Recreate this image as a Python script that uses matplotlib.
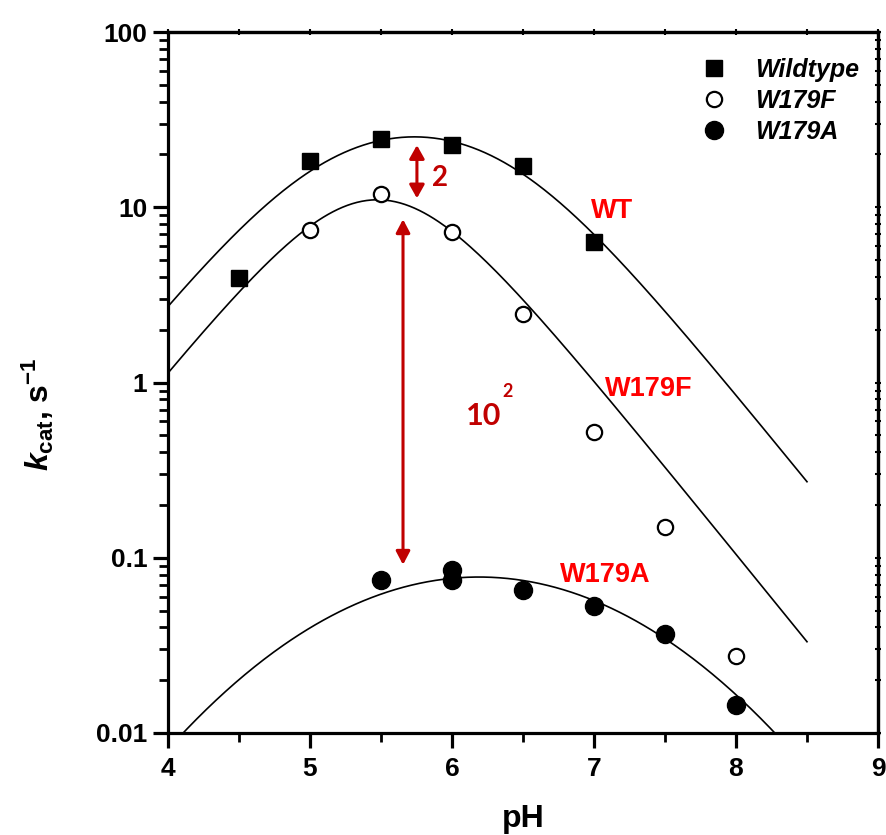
import numpy as np
import matplotlib
matplotlib.use("Agg")
import matplotlib.pyplot as plt

# ---------------- data ----------------
ph_wt = [4.5, 5.0, 5.5, 6.0, 6.5, 7.0]
kcat_wt = [3.93, 18.3, 24.5, 22.6, 17.1, 6.3]

ph_f = [5.0, 5.5, 6.0, 6.5, 7.0, 7.5, 8.0]
kcat_f = [7.39, 11.9, 7.2, 2.45, 0.525, 0.150, 0.0275]

ph_a = [5.5, 6.0, 6.0, 6.5, 7.0, 7.5, 8.0]
kcat_a = [0.0748, 0.0854, 0.0748, 0.0656, 0.0532, 0.0368, 0.0145]

legend_labels = ["Wildtype", "W179F", "W179A"]

# fitted-curve parameters (bell-shaped pH profile: kmax, pKa1, pKa2)
fit_wt = (36.9, 5.10, 6.37)
fit_f = (29.6, 5.40, 5.55)
# W179A fit: log10 k = c - q (pH - pH0)^2
fit_a = (-1.11, 0.205, 6.19)
fit_range = (4.0, 8.5)

x_ticks = [4, 5, 6, 7, 8, 9]
y_ticks = [0.01, 0.1, 1, 10, 100]
y_ticklabels = ["0.01", "0.1", "1", "10", "100"]

# ---------------- figure ----------------
plt.rcParams['font.family'] = ['Liberation Sans', 'DejaVu Sans']
plt.rcParams['mathtext.fontset'] = 'custom'
plt.rcParams['mathtext.rm'] = 'Liberation Sans:bold'
plt.rcParams['mathtext.it'] = 'Liberation Sans:italic:bold'
plt.rcParams['mathtext.bf'] = 'Liberation Sans:bold'

fig = plt.figure(figsize=(8.87, 8.35), dpi=100)
ax = fig.add_axes([168/887, 1-733/835, 710/887, 701/835])


def bell(ph, kmax, pka1, pka2):
    ph = np.asarray(ph)
    return kmax / (1 + 10**(pka1 - ph) + 10**(ph - pka2))


def logparab(ph, c, q, ph0):
    ph = np.asarray(ph)
    return 10**(c - q*(ph - ph0)**2)


phs = np.linspace(fit_range[0], fit_range[1], 400)
ax.plot(phs, bell(phs, *fit_wt), color='black', lw=1.2, zorder=2)
ax.plot(phs, bell(phs, *fit_f), color='black', lw=1.2, zorder=2)
ax.plot(phs, logparab(phs, *fit_a), color='black', lw=1.2, zorder=2)

h1, = ax.plot(ph_wt, kcat_wt, ls='none', marker='s', ms=12, color='black', zorder=3)
h2, = ax.plot(ph_f, kcat_f, ls='none', marker='o', ms=11, mfc='white', mec='black',
              mew=1.6, zorder=3)
h3, = ax.plot(ph_a, kcat_a, ls='none', marker='o', ms=13, color='black', zorder=3)

ax.set_yscale('log')
ax.set_xlim(4, 9)
ax.set_ylim(0.01, 100)

ax.set_xticks(x_ticks)
ax.set_xticks(np.arange(4.5, 9, 1.0), minor=True)
ax.set_yticks(y_ticks)
ax.set_yticklabels(y_ticklabels)
ax.set_xticklabels([str(v) for v in x_ticks])

for s in ax.spines.values():
    s.set_linewidth(2.3)

ax.tick_params(which='major', direction='out', length=11, width=2.3,
               labelsize=19, pad=4)
ax.tick_params(which='minor', direction='out', length=6.5, width=2.0)
ax.tick_params(axis='x', which='major', pad=6)
for lab in ax.get_xticklabels() + ax.get_yticklabels():
    lab.set_fontweight('bold')

# small ticks on top / right spines
secx = ax.secondary_xaxis('top')
secx.set_xticks(x_ticks)
secx.set_xticks(np.arange(4.5, 9, 1.0), minor=True)
secx.tick_params(which='both', direction='inout', length=4, width=1.5, labeltop=False)
secx.spines['top'].set_linewidth(2.3)
secy = ax.secondary_yaxis('right')
secy.tick_params(which='both', direction='inout', length=4, width=1.5, labelright=False)
secy.spines['right'].set_linewidth(2.3)

ax.set_xlabel('pH', fontsize=23, fontweight='bold', labelpad=17)
ax.set_ylabel(r'$k_{\mathrm{cat}}$, s$^{\mathrm{-1}}$', fontsize=23, fontweight='bold')
ax.yaxis.set_label_coords(-0.158, 0.455)

# legend
leg = ax.legend([h1, h2, h3], legend_labels, loc='upper left',
                bbox_to_anchor=(0.752, 0.963), frameon=False, borderpad=0,
                borderaxespad=0, handlelength=1.0, handletextpad=1.15,
                labelspacing=0.28,
                prop={'family': 'Liberation Sans', 'style': 'italic',
                      'weight': 'bold', 'size': 18})

# annotations
dark_red = '#C00000'
ax.annotate('', xy=(5.753, 22.6), xytext=(5.753, 11.25),
            arrowprops=dict(arrowstyle='<|-|>,head_length=0.8,head_width=0.45',
                            color=dark_red, lw=2.2, shrinkA=0, shrinkB=0))
ax.annotate('', xy=(5.655, 8.54), xytext=(5.655, 0.0912),
            arrowprops=dict(arrowstyle='<|-|>,head_length=0.8,head_width=0.42',
                            color=dark_red, lw=2.2, shrinkA=0, shrinkB=0))
ax.text(5.86, 14.6, '2', color=dark_red, fontsize=20, fontweight='bold',
        family='Lato', ha='left', va='center')
ax.text(6.225, 0.64, '10', color=dark_red, fontsize=22, fontweight='bold',
        family='Lato', ha='center', va='center')
ax.text(6.39, 0.89, '2', color=dark_red, fontsize=13, fontweight='bold',
        family='Lato', ha='center', va='center')

ax.text(7.127, 9.5, 'WT', color='#FF0000', fontsize=19.5, fontweight='bold',
        ha='center', va='center')
ax.text(7.387, 0.924, 'W179F', color='#FF0000', fontsize=19.5, fontweight='bold',
        ha='center', va='center')
ax.text(7.077, 0.080, 'W179A', color='#FF0000', fontsize=19.5, fontweight='bold',
        ha='center', va='center')

fig.savefig('out.png', dpi=100)
